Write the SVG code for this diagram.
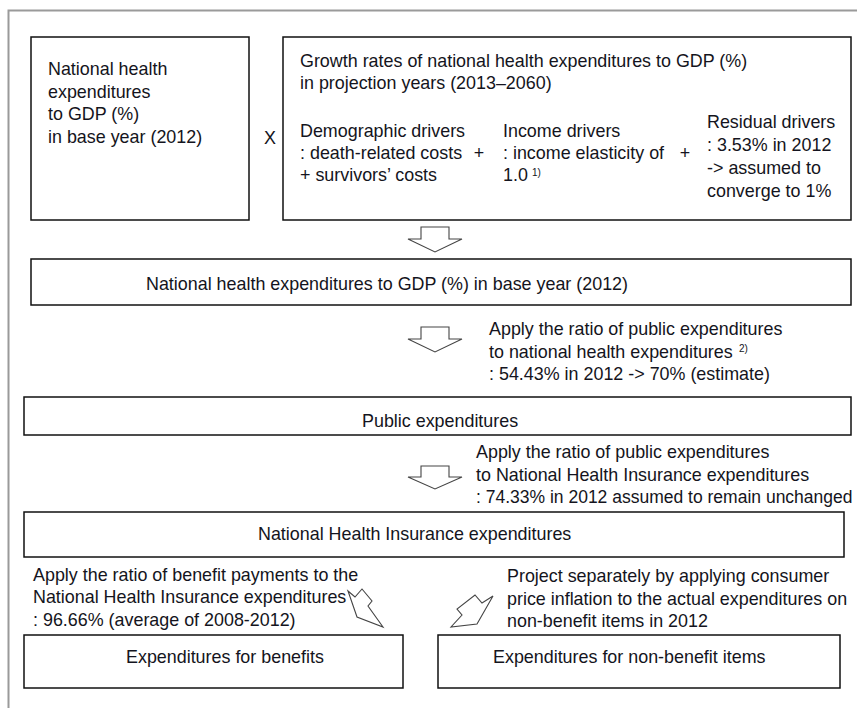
<svg xmlns="http://www.w3.org/2000/svg" width="857" height="708" viewBox="0 0 857 708">
  <style>
    .box { fill: #fff; stroke: #111; stroke-width: 1.5; }
    .arrow { fill: #fff; stroke: #444; stroke-width: 1.1; stroke-linejoin: miter; }
    text { font-family: "Liberation Sans", Arial, sans-serif; font-size: 17.9px; fill: #141420; }
    .mid { text-anchor: middle; }
    .sup { font-size: 10px; }
    .tight { font-size: 17.5px; }
  </style>
  <rect width="857" height="708" fill="#fff"/>
  <!-- outer frame -->
  <path d="M8.5 708 V10.5 H857" fill="none" stroke="#9a9a9a" stroke-width="2"/>

  <g id="base-ratio">
    <rect class="box" x="31" y="37" width="218" height="183"/>
    <text x="48" y="75">National health</text>
    <text x="48" y="97.5">expenditures</text>
    <text x="48" y="120">to GDP (%)</text>
    <text x="48" y="142.5">in base year (2012)</text>
  </g>
  <g id="times">
    <text class="mid" x="270" y="144">X</text>
  </g>
  <g id="growth-rates">
    <rect class="box" x="283" y="37" width="568" height="183"/>
    <text x="300" y="67">Growth rates of national health expenditures to GDP (%)</text>
    <text x="300" y="89">in projection years (2013–2060)</text>
    <text x="300" y="137">Demographic drivers</text>
    <text x="300" y="159">: death-related costs</text>
    <text x="300" y="181">+ survivors’ costs</text>
    <text class="mid" x="479" y="159">+</text>
    <text x="503" y="137">Income drivers</text>
    <text x="503" y="159">: income elasticity of</text>
    <text x="503" y="181">1.0</text>
    <text class="sup" x="532" y="176">1)</text>
    <text class="mid" x="685" y="159">+</text>
    <text x="707" y="128">Residual drivers</text>
    <text x="707" y="151">: 3.53% in 2012</text>
    <text x="707" y="174">-&gt; assumed to</text>
    <text x="707" y="197">converge to 1%</text>
  </g>
  <g id="nhe-base">
    <rect class="box" x="31" y="259" width="820" height="46"/>
    <text x="146" y="290">National health expenditures to GDP (%) in base year (2012)</text>
  </g>
  <g id="public">
    <rect class="box" x="24" y="397" width="827" height="38"/>
    <text x="362" y="427">Public expenditures</text>
  </g>
  <g id="nhi">
    <rect class="box" x="24" y="512" width="820" height="45"/>
    <text x="258" y="540">National Health Insurance expenditures</text>
  </g>
  <g id="benefits">
    <rect class="box" x="24" y="635" width="379" height="53"/>
    <text x="126" y="663">Expenditures for benefits</text>
  </g>
  <g id="non-benefit">
    <rect class="box" x="438" y="635" width="402" height="53"/>
    <text x="493" y="663">Expenditures for non-benefit items</text>
  </g>

  <g id="connectors">
    <polygon class="arrow" points="421,227 449,227 449,239 462,239 435,252 408,239 421,239"/>
    <polygon class="arrow" points="421,327 449,327 449,339 462,339 435,352 408,339 421,339"/>
    <polygon class="arrow" points="421,466 449,466 449,477 462,477 435,489 408,477 421,477"/>
    <polygon class="arrow" points="348,591 355,597 362,589 372,601 368,606 383,627 357,617"/>
    <polygon class="arrow" points="493,596 482,603 475,595 457,609 462,615 451,627 477,624"/>
  </g>

  <g id="labels">
    <text x="489" y="335">Apply the ratio of public expenditures</text>
    <text x="489" y="358">to national health expenditures</text>
    <text class="sup" x="739" y="352">2)</text>
    <text x="489" y="380">: 54.43% in 2012 -&gt; 70% (estimate)</text>
    <text x="476" y="458">Apply the ratio of public expenditures</text>
    <text x="476" y="481">to National Health Insurance expenditures</text>
    <text class="tight" x="476" y="503">: 74.33% in 2012 assumed to remain unchanged</text>
    <text x="33" y="581">Apply the ratio of benefit payments to the</text>
    <text x="33" y="603">National Health Insurance expenditures</text>
    <text x="33" y="626">: 96.66% (average of 2008-2012)</text>
    <text x="507" y="582">Project separately by applying consumer</text>
    <text x="507" y="605">price inflation to the actual expenditures on</text>
    <text x="507" y="627">non-benefit items in 2012</text>
  </g>
</svg>
